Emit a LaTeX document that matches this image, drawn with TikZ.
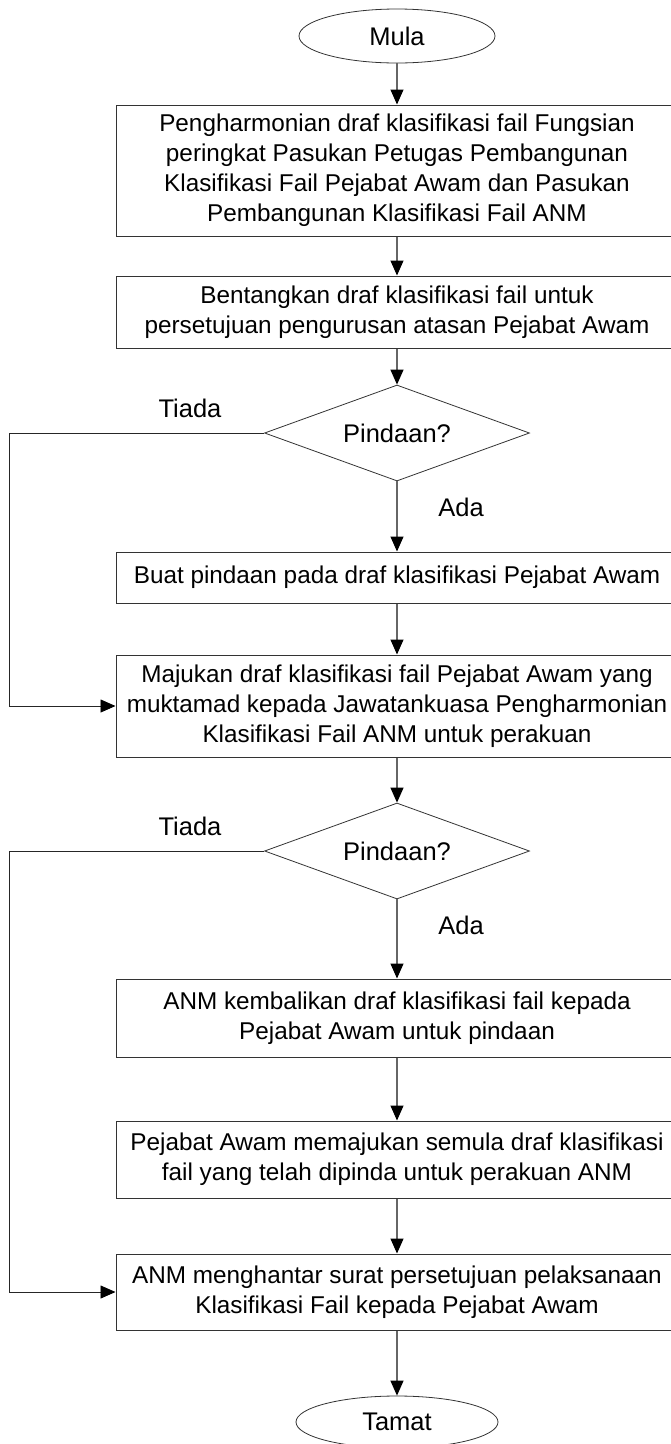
\documentclass[tikz,border=0pt]{standalone}
\usepackage{fontspec}
\setmainfont{Liberation Sans}
\usetikzlibrary{shapes.geometric,arrows.meta}

\tikzset{
  proses/.style={rectangle,draw=black!80,line width=1pt,minimum width=562pt,align=center,inner sep=0pt,font=\fontsize{24.3}{30}\selectfont},
  terminal/.style={ellipse,draw=black!80,line width=0.8pt,minimum width=196pt,minimum height=54pt,inner sep=0pt,font=\fontsize{25.5}{28}\selectfont},
  keputusan/.style={diamond,draw=black!80,line width=0.8pt,minimum width=265pt,minimum height=96pt,aspect=2.75,inner sep=0pt,font=\fontsize{25.5}{28}\selectfont},
  anak/.style={draw=black!60,line width=1.2pt,-{Triangle[length=15pt,width=13pt,color=black]}},
  balik/.style={draw=black!85,line width=0.9pt,-{Triangle[length=15pt,width=13pt,color=black]}},
  tanda/.style={font=\fontsize{25.5}{28}\selectfont}
}

\begin{document}
\begin{tikzpicture}[x=1pt,y=-1pt]
    \useasboundingbox (0,0) rectangle (670,1444);

    \node (mula) at (397,36) [terminal] {Mula};
    \node (p1) at (397,170.5) [proses,minimum height=131pt] {Pengharmonian draf klasifikasi fail Fungsian\\peringkat Pasukan Petugas Pembangunan\\Klasifikasi Fail Pejabat Awam dan Pasukan\\Pembangunan Klasifikasi Fail ANM};
    \node (p2) at (397,312) [proses,minimum height=72pt] {Bentangkan draf klasifikasi fail untuk\\persetujuan pengurusan atasan Pejabat Awam};
    \node (q1) at (397,433) [keputusan] {Pindaan?};
    \node (p3) at (397,577.5) [proses,minimum height=51pt] {Buat pindaan pada draf klasifikasi Pejabat Awam};
    \node (p4) at (397,706) [proses,minimum height=102pt] {Majukan draf klasifikasi fail Pejabat Awam yang\\muktamad kepada Jawatankuasa Pengharmonian\\Klasifikasi Fail ANM untuk perakuan};
    \node (q2) at (397,851) [keputusan] {Pindaan?};
    \node (p5) at (397,1018) [proses,minimum height=78pt] {ANM kembalikan draf klasifikasi fail kepada\\Pejabat Awam untuk pindaan};
    \node (p6) at (397,1159.5) [proses,minimum height=77pt] {Pejabat Awam memajukan semula draf klasifikasi\\fail yang telah dipinda untuk perakuan ANM};
    \node (p7) at (397,1292) [proses,minimum height=76pt] {ANM menghantar surat persetujuan pelaksanaan\\Klasifikasi Fail kepada Pejabat Awam};
    \node (tamat) at (397,1422) [terminal,minimum width=202pt,minimum height=52pt] {Tamat};

    \node (t1) at (190,408) [tanda] {Tiada};
    \node (a1) at (461,507) [tanda] {Ada};
    \node (t2) at (190,826) [tanda] {Tiada};
    \node (a2) at (461,925) [tanda] {Ada};

    \coordinate (k1) at (9,433);
    \coordinate (k2) at (9,851);

    \draw[anak] (mula) -- (p1);
    \draw[anak] (p1) -- (p2);
    \draw[anak] (p2) -- (q1);
    \draw[anak] (q1) -- (p3);
    \draw[anak] (p3) -- (p4);
    \draw[anak] (p4) -- (q2);
    \draw[anak] (q2) -- (p5);
    \draw[anak] (p5) -- (p6);
    \draw[anak] (p6) -- (p7);
    \draw[anak] (p7) -- (tamat);

    \draw[balik] (q1.west) -- (k1) |- (p4.west);
    \draw[balik] (q2.west) -- (k2) |- (p7.west);
\end{tikzpicture}
\end{document}
